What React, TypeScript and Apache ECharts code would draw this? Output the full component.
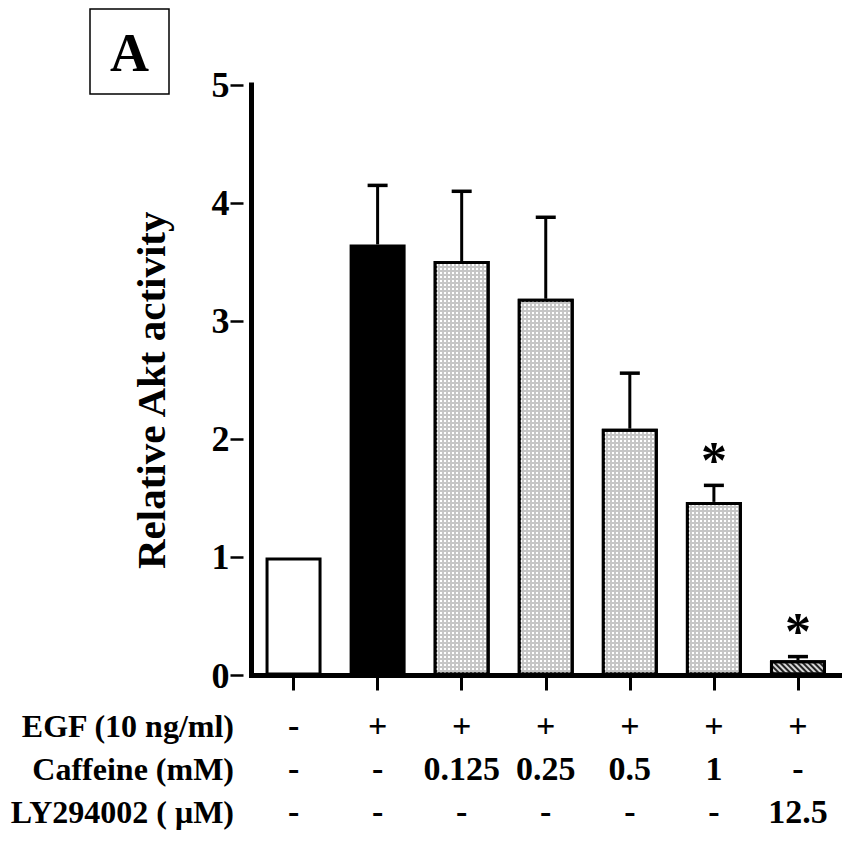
import React, { useEffect, useRef } from "react";
import * as echarts from "echarts";

// ---- data ----
const categories = ["1", "2", "3", "4", "5", "6", "7"];
const means = [1.0, 3.65, 3.51, 3.19, 2.09, 1.47, 0.13];
const sems = [0, 0.5, 0.59, 0.69, 0.47, 0.14, 0.03];
const significant = [0, 0, 0, 0, 0, 1, 1];
const egfRow = ["-", "+", "+", "+", "+", "+", "+"];
const caffeineRow = ["-", "-", "0.125", "0.25", "0.5", "1", "-"];
const lyRow = ["-", "-", "-", "-", "-", "-", "12.5"];
const rowTitles = ["EGF (10 ng/ml)", "Caffeine (mM)", "LY294002 ( \u03bcM)"];
const yTicks = [0, 1, 2, 3, 4, 5];
const panelLetter = "A";
const yTitle = "Relative Akt activity";

const FONT = "'Liberation Serif', 'Times New Roman', serif";

function barStyle(i: number) {
  const base = { borderColor: "#000", borderWidth: 3 };
  if (i === 0) return { ...base, color: "#ffffff" };
  if (i === 1) return { ...base, color: "#000000" };
  if (i === 6)
    return {
      ...base,
      color: "#d8d8d8",
      decal: {
        symbol: "rect",
        symbolSize: 1,
        dashArrayX: [1, 0],
        dashArrayY: [1.5, 1.5],
        rotation: Math.PI / 4,
        color: "#222222",
      },
    };
  return {
    ...base,
    color: "#c6c6c6",
    decal: {
      symbol: "rect",
      symbolSize: 1,
      dashArrayX: [1.2, 1.8],
      dashArrayY: [1.2, 1.8],
      color: "#ffffff",
    },
  };
}

export default function App() {
  const ref = useRef<HTMLDivElement>(null);
  useEffect(() => {
    if (!ref.current) return;
    const chart = echarts.init(ref.current, undefined, { renderer: "svg" });
    const rowY = [726, 769, 812];
    const option: any = {
      animation: false,
      backgroundColor: "#ffffff",
      grid: { left: 251.5, right: 2, top: 85, bottom: 173.5 },
      xAxis: {
        type: "category",
        data: categories,
        boundaryGap: true,
        axisLine: { show: true, lineStyle: { color: "#000", width: 5, cap: "square" } },
        axisTick: { show: true, alignWithLabel: true, length: 15, lineStyle: { color: "#000", width: 3 } },
        axisLabel: {
          interval: 0,
          margin: 28,
          lineHeight: 43,
          color: "#000",
          fontFamily: FONT,
          fontWeight: "bold",
          fontSize: 34,
          formatter: (_v: string, idx: number) => `${egfRow[idx]}\n${caffeineRow[idx]}\n${lyRow[idx]}`,
        },
        splitLine: { show: false },
      },
      yAxis: [
        {
          type: "value",
          position: "left",
          min: yTicks[0],
          max: yTicks[yTicks.length - 1],
          interval: 1,
          axisLine: { show: true, lineStyle: { color: "#000", width: 5, cap: "square" } },
          axisTick: { show: false },
          axisLabel: { show: false },
          splitLine: { show: false },
          name: yTitle,
          nameLocation: "middle",
          nameGap: 80,
          nameTextStyle: {
            color: "#000",
            fontFamily: FONT,
            fontWeight: "bold",
            fontSize: 41,
            padding: [0, 20, 0, 0],
          },
        },
        {
          type: "value",
          position: "left",
          offset: 8,
          min: yTicks[0],
          max: yTicks[yTicks.length - 1],
          interval: 1,
          axisLine: { show: false },
          axisTick: { show: true, length: 13, lineStyle: { color: "#000", width: 2.5 } },
          axisLabel: {
            margin: 14,
            color: "#000",
            fontFamily: FONT,
            fontWeight: "bold",
            fontSize: 36,
            padding: [12, 0, 0, 0],
          },
          splitLine: { show: false },
        },
      ],
      series: [
        {
          type: "bar",
          yAxisIndex: 0,
          barWidth: 56,
          data: means.map((v, i) => ({ value: v, itemStyle: barStyle(i) })),
          z: 2,
        },
        {
          type: "custom",
          yAxisIndex: 0,
          z: 3,
          data: means.map((m, i) => [i, m, sems[i], significant[i]]),
          encode: { x: 0, y: 1 },
          renderItem: (params: any, api: any) => {
            const i = api.value(0);
            const m = api.value(1);
            const e = api.value(2);
            const s = api.value(3);
            const base = api.coord([i, m]);
            const top = api.coord([i, m + e]);
            const children: any[] = [];
            if (e > 0) {
              children.push({
                type: "line",
                shape: { x1: base[0], y1: base[1], x2: top[0], y2: top[1] },
                style: { stroke: "#000", lineWidth: 3 },
              });
              children.push({
                type: "line",
                shape: { x1: top[0] - 10, y1: top[1], x2: top[0] + 10, y2: top[1] },
                style: { stroke: "#000", lineWidth: 3.5 },
              });
            }
            if (s) {
              children.push({
                type: "text",
                x: top[0],
                y: top[1] - 25,
                style: {
                  text: "*",
                  fill: "#000",
                  font: `bold 52px ${FONT}`,
                  textAlign: "center",
                  textVerticalAlign: "middle",
                },
              });
            }
            return { type: "group", children };
          },
        },
      ],
      graphic: [
        {
          type: "rect",
          shape: { x: 90, y: 9, width: 79, height: 85 },
          style: { fill: "none", stroke: "#000", lineWidth: 1.5 },
        },
        {
          type: "text",
          x: 129.5,
          y: 53,
          style: {
            text: panelLetter,
            font: `bold 54px ${FONT}`,
            fill: "#000",
            textAlign: "center",
            textVerticalAlign: "middle",
          },
        },
        ...rowTitles.map((t, k) => ({
          type: "text",
          x: 234,
          y: rowY[k],
          style: {
            text: t,
            font: `bold 32px ${FONT}`,
            fill: "#000",
            textAlign: "right",
            textVerticalAlign: "middle",
          },
        })),
      ],
    };
    chart.setOption(option);
    return () => chart.dispose();
  }, []);
  return (
    <div
      ref={ref}
      style={{ position: "fixed", left: 0, top: 0, width: 842, height: 849, background: "#fff" }}
    />
  );
}
